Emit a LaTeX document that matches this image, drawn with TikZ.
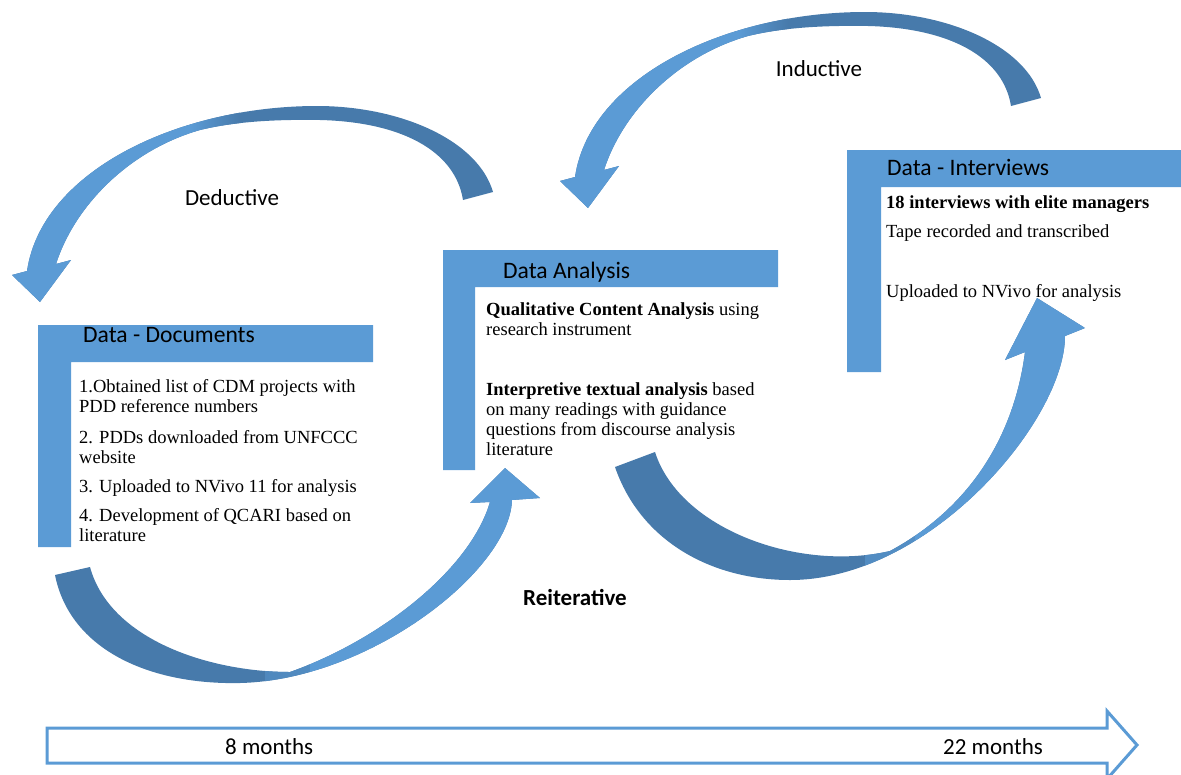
\documentclass[tikz,border=0pt]{standalone}
\usepackage{fontspec}
\setmainfont{Liberation Serif}
\newfontfamily\labelfont{Carlito}
\usetikzlibrary{positioning}
\definecolor{hdrBlue}{HTML}{5B9BD5}
\definecolor{arrLite}{HTML}{5B9BD5}
\definecolor{arrDark}{HTML}{477AAB}

\begin{document}
\begin{tikzpicture}[x=1pt, y=-1pt,
    hdr/.style={fill=hdrBlue},
    title/.style={font=\labelfont\fontsize{23.6}{27}\selectfont, anchor=base west, inner sep=0pt},
    body/.style={font=\fontsize{18.5}{20}\selectfont, align=left, anchor=north west, inner sep=0pt},
    tag/.style={font=\labelfont\fontsize{23}{27}\selectfont, anchor=base, inner sep=0pt},
    bentarrow/.pic={
      \fill[arrDark, path picture={
          \fill[arrLite] (path picture bounding box.north west) rectangle ([xshift=178pt]path picture bounding box.south west);
          \shade[left color=arrLite, right color=arrDark] ([xshift=178pt]path picture bounding box.north west) rectangle ([xshift=228pt]path picture bounding box.south west);}]
        (463,200) .. controls (455,150) and (400,122) .. (320,120)
        .. controls (260,119) and (225,124) .. (200,130)
        .. controls (130,150) and (75,205) .. (56,264)
        -- (71,260) -- (40,302) -- (12,275) -- (27,271)
        .. controls (42,170) and (180,106) .. (317,106)
        .. controls (400,106) and (478,140) .. (493,192) -- cycle;
    },
  ]
    \useasboundingbox (0,0) rectangle (1181,774);

    % top arrows
    \pic at (0,0) {bentarrow};
    \pic at (548,-94) {bentarrow};
    \node[tag] (ded) at (232,205) {Deductive};
    \node[tag] (ind) at (819,76) {Inductive};

    % bottom arrows
    \fill[arrDark, path picture={
        \shade[left color=arrDark, right color=arrLite] ([xshift=210pt]path picture bounding box.north west) rectangle ([xshift=255pt]path picture bounding box.south west);
        \fill[arrLite] ([xshift=255pt]path picture bounding box.north west) rectangle (path picture bounding box.south east);}]
      (90,567) .. controls (110,640) and (210,672) .. (290,672)
      .. controls (380,640) and (470,570) .. (490,502)
      -- (470,503) -- (505,468) -- (540,498) -- (512,500)
      .. controls (510,570) and (370,680) .. (240,683)
      .. controls (150,685) and (70,650) .. (55,575) -- cycle;
    \fill[arrDark, path picture={
        \shade[left color=arrDark, right color=arrLite] ([xshift=250pt]path picture bounding box.north west) rectangle ([xshift=300pt]path picture bounding box.south west);
        \fill[arrLite] ([xshift=300pt]path picture bounding box.north west) rectangle (path picture bounding box.south east);}]
      (655,452) .. controls (680,530) and (800,572) .. (890,551)
      .. controls (975,505) and (1015,430) .. (1025,352)
      -- (1005,360) -- (1037,298) -- (1085,328) -- (1065,336)
      .. controls (1065,420) and (930,580) .. (790,580)
      .. controls (710,580) and (640,540) .. (615,467) -- cycle;
    \node[tag, font=\labelfont\bfseries\fontsize{23}{27}\selectfont] (reit) at (575,605) {Reiterative};

    % documents
    \fill[hdr] (38,325) -- (373,325) -- (373,362) -- (71,362) -- (71,547) -- (38,547) -- cycle;
    \node[title] (docs) at (83,342) {Data - Documents};
    \node[body] (docs1) at (79,379) {1.Obtained list of CDM projects with\\PDD reference numbers};
    \node[body] (docs2) at (79,430) {2. PDDs downloaded from UNFCCC\\website};
    \node[body] (docs3) at (79,479) {3. Uploaded to NVivo 11 for analysis};
    \node[body] (docs4) at (79,508) {4. Development of QCARI based on\\literature};

    % analysis
    \fill[hdr] (443,250) -- (778,250) -- (778,287) -- (475,287) -- (475,470) -- (443,470) -- cycle;
    \node[title] (ana) at (503,278) {Data Analysis};
    \node[body] (ana1) at (486,302) {\textbf{Qualitative Content Analysis} using\\research instrument};
    \node[body] (ana2) at (486,382) {\textbf{Interpretive textual analysis} based\\on many readings with guidance\\questions from discourse analysis\\literature};

    % interviews
    \fill[hdr] (847,150) -- (1181,150) -- (1181,187) -- (881,187) -- (881,372) -- (847,372) -- cycle;
    \node[title] (int) at (887,175) {Data - Interviews};
    \node[body] (int1) at (886,195) {\textbf{18 interviews with elite managers}};
    \node[body] (int2) at (886,224) {Tape recorded and transcribed};
    \node[body] (int3) at (886,284) {Uploaded to NVivo for analysis};

    % time line
    \draw[hdrBlue, line width=3pt, fill=white] (47,728) -- (1107,728) -- (1107,711) -- (1137,745)
      -- (1107,779) -- (1107,763) -- (47,763) -- cycle;
    \node[tag, anchor=base west] (m8) at (225,754) {8 months};
    \node[tag, anchor=base west] (m22) at (943,754) {22 months};
\end{tikzpicture}
\end{document}
